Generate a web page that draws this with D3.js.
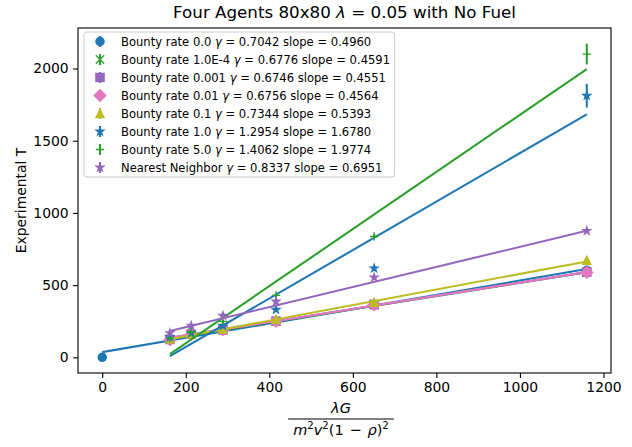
<!DOCTYPE html>
<html>
<head>
<meta charset="utf-8">
<script src="https://cdn.jsdelivr.net/npm/d3@7"></script>
<style>
  body { margin: 0; background: #fff; }
  svg { display: block; }
  text { font-family: "DejaVu Sans", sans-serif; fill: #000; }
</style>
</head>
<body>
<div id="chart"></div>
<script>
// x positions of the runs (lambda G / m^2 v^2 (1-rho)^2)
const xRuns = [162, 213, 289, 416, 651, 1160];
const xWithOrigin = [0, 162, 213, 289, 416, 651, 1160];

// series labels and fit results from the legend
const seriesNames = ["Bounty rate 0.0", "Bounty rate 1.0E-4", "Bounty rate 0.001", "Bounty rate 0.01",
  "Bounty rate 0.1", "Bounty rate 1.0", "Bounty rate 5.0", "Nearest Neighbor"];
const gammaVals = ["0.7042", "0.6776", "0.6746", "0.6756", "0.7344", "1.2954", "1.4062", "0.8337"];
const slopeVals = [0.4960, 0.4591, 0.4551, 0.4564, 0.5393, 1.6780, 1.9774, 0.6951];
const interceptVals = [36, 57, 62, 61, 38, -264, -298, 70];
const seriesColors = ["#1f77b4", "#2ca02c", "#9467bd", "#e377c2", "#bcbd22", "#1f77b4", "#2ca02c", "#9467bd"];
const seriesMarkers = ["o", "x", "s", "D", "^", "*", "+", "*"];

// measured T per run
const yBounty0 = [0, 125, 160, 191, 250, 365, 602];
const yBounty1e4 = [126, 162, 192, 252, 368, 594];
const yBounty001 = [124, 160, 190, 250, 365, 590];
const yBounty01 = [122, 158, 190, 249, 364, 588];
const yBounty1 = [128, 163, 197, 262, 382, 672];
const yBounty10 = [140, 168, 219, 330, 616, 1812];
const yBounty50 = [133, 175, 249, 429, 837, 2100];
const yNearest = [168, 219, 288, 387, 553, 876];

// error bars (half heights)
const errBounty0 = [0, 4, 4, 5, 6, 8, 10];
const errSmall = [4, 4, 5, 6, 8, 10];
const errBounty10 = [8, 8, 10, 14, 18, 82];
const errBounty50 = [6, 8, 10, 14, 16, 72];

const xTicks = [0, 200, 400, 600, 800, 1000, 1200];
const yTicks = [0, 500, 1000, 1500, 2000];

const series = [
  { x: xWithOrigin, y: yBounty0, err: errBounty0 },
  { x: xRuns, y: yBounty1e4, err: errSmall },
  { x: xRuns, y: yBounty001, err: errSmall },
  { x: xRuns, y: yBounty01, err: errSmall },
  { x: xRuns, y: yBounty1, err: errSmall },
  { x: xRuns, y: yBounty10, err: errBounty10 },
  { x: xRuns, y: yBounty50, err: errBounty50 },
  { x: xRuns, y: yNearest, err: errSmall }
].map((s, i) => ({
  ...s,
  name: seriesNames[i], gamma: gammaVals[i], slope: slopeVals[i], intercept: interceptVals[i],
  color: seriesColors[i], marker: seriesMarkers[i]
}));

const width = 632, height = 447;
const plot = { left: 78, top: 28, right: 611, bottom: 373 };

// matplotlib-like 5% margins
const allX = series.flatMap(s => s.x);
const allYlo = series.flatMap(s => s.y.map((v, j) => v - s.err[j]));
const allYhi = series.flatMap(s => s.y.map((v, j) => v + s.err[j]));
const xMin = d3.min(allX), xMax = d3.max(allX);
const yMin = Math.min(0, d3.min(allYlo)), yMax = d3.max(allYhi);
const xPad = (xMax - xMin) * 0.05, yPad = (yMax - yMin) * 0.05;

const x = d3.scaleLinear().domain([xMin - xPad, xMax + xPad]).range([plot.left, plot.right]);
const y = d3.scaleLinear().domain([yMin - yPad, yMax + yPad]).range([plot.bottom, plot.top]);

const svg = d3.select("#chart").append("svg")
  .attr("width", width)
  .attr("height", height);

// marker shapes, sized like matplotlib markersize 6
function markerPath(type, size) {
  const h = size / 2;
  if (type === "o") return d3.symbol(d3.symbolCircle, Math.PI * h * h)();
  if (type === "s") return `M${-h},${-h}H${h}V${h}H${-h}Z`;
  if (type === "D") { const d = h * Math.SQRT2; return `M0,${-d}L${d},0L0,${d}L${-d},0Z`; }
  if (type === "^") return `M0,${-h}L${h},${h}L${-h},${h}Z`;
  if (type === "+") return `M${-h},0H${h}M0,${-h}V${h}`;
  if (type === "x") return `M${-h},${-h}L${h},${h}M${-h},${h}L${h},${-h}`;
  if (type === "*") {
    const pts = d3.range(10).map(k => {
      const r = k % 2 === 0 ? h : h * 0.381966;
      const a = -Math.PI / 2 + k * Math.PI / 5;
      return [r * Math.cos(a), r * Math.sin(a)];
    });
    return "M" + pts.map(p => p.join(",")).join("L") + "Z";
  }
}
const strokeOnly = t => t === "+" || t === "x";
const msize = 8.33;

function drawMarker(g, s, cx, cy) {
  g.append("path")
    .attr("transform", `translate(${cx},${cy})`)
    .attr("d", markerPath(s.marker, msize))
    .attr("fill", strokeOnly(s.marker) ? "none" : s.color)
    .attr("stroke", s.color)
    .attr("stroke-width", strokeOnly(s.marker) ? 1.4 : 1.2)
    .attr("stroke-linejoin", "miter");
}

// axes
const xAxis = d3.axisBottom(x).tickValues(xTicks).tickFormat(d3.format("d"))
  .tickSize(4.9).tickSizeOuter(0).tickPadding(4.4);
const yAxis = d3.axisLeft(y).tickValues(yTicks).tickFormat(d3.format("d"))
  .tickSize(4.9).tickSizeOuter(0).tickPadding(4.4);

const gx = svg.append("g").attr("transform", `translate(0,${plot.bottom})`).call(xAxis);
const gy = svg.append("g").attr("transform", `translate(${plot.left},0)`).call(yAxis);
[gx, gy].forEach(g => {
  g.select(".domain").remove();
  g.selectAll("line").attr("stroke", "#000").attr("stroke-width", 1.1);
  g.selectAll("text").attr("font-size", "13.9px").attr("font-family", "DejaVu Sans").attr("fill", "#000");
});

// data
const dataLayer = svg.append("g");
series.forEach(s => {
  const g = dataLayer.append("g");
  s.x.forEach((xv, j) => {
    g.append("line")
      .attr("x1", x(xv)).attr("x2", x(xv))
      .attr("y1", y(s.y[j] - s.err[j])).attr("y2", y(s.y[j] + s.err[j]))
      .attr("stroke", s.color).attr("stroke-width", 2.08);
    drawMarker(g, s, x(xv), y(s.y[j]));
  });
  // fit line
  const fx = d3.extent(s.x);
  g.append("path")
    .datum(fx)
    .attr("d", d3.line().x(d => x(d)).y(d => y(s.slope * d + s.intercept)))
    .attr("fill", "none")
    .attr("stroke", s.color)
    .attr("stroke-width", 2.08);
});

// frame
svg.append("rect")
  .attr("x", plot.left).attr("y", plot.top)
  .attr("width", plot.right - plot.left).attr("height", plot.bottom - plot.top)
  .attr("fill", "none").attr("stroke", "#000").attr("stroke-width", 1.1);

// legend
const lf = 11.57;
const legend = svg.append("g");
const legBox = legend.append("rect")
  .attr("x", 84).attr("y", 32).attr("rx", 3).attr("ry", 3)
  .attr("fill", "#fff").attr("fill-opacity", 0.8)
  .attr("stroke", "#cccccc").attr("stroke-width", 1);
let maxRight = 0;
series.forEach((s, i) => {
  const cy = 41.5 + i * 18;
  const g = legend.append("g");
  g.append("line")
    .attr("x1", 100).attr("x2", 100).attr("y1", cy - 5.5).attr("y2", cy + 5.5)
    .attr("stroke", s.color).attr("stroke-width", 2.08);
  drawMarker(g, s, 100, cy);
  const t = g.append("text")
    .attr("x", 121).attr("y", cy).attr("dy", "0.36em")
    .attr("font-size", lf + "px");
  t.append("tspan").text(s.name + " ");
  t.append("tspan").attr("font-style", "italic").text("γ");
  t.append("tspan").text(` = ${s.gamma} slope = ${s.slope.toFixed(4)}`);
  const bb = t.node().getBBox();
  maxRight = Math.max(maxRight, bb.x + bb.width);
});
legBox.attr("width", maxRight + 4.6 - 84).attr("height", 145);

// title
const title = svg.append("text")
  .attr("x", (plot.left + plot.right) / 2).attr("y", 18)
  .attr("text-anchor", "middle").attr("font-size", "16.7px");
title.append("tspan").text("Four Agents 80x80 ");
title.append("tspan").attr("font-style", "italic").text("λ");
title.append("tspan").text(" = 0.05 with No Fuel");

// y label
svg.append("text")
  .attr("transform", `translate(26,${(plot.top + plot.bottom) / 2}) rotate(-90)`)
  .attr("text-anchor", "middle").attr("font-size", "13.9px")
  .text("Experimental T");

// x label: fraction
const fxc = 341;
const num = svg.append("text")
  .attr("x", fxc).attr("y", 413)
  .attr("text-anchor", "middle").attr("font-size", "14.5px");
num.append("tspan").attr("font-style", "italic").text("λG");

const den = svg.append("text")
  .attr("x", fxc).attr("y", 435)
  .attr("text-anchor", "middle").attr("font-size", "14.5px");
const sup = (el, txt) => el.append("tspan").attr("font-size", "10.2px").attr("dy", "-6").text(txt);
const down = (el) => el.append("tspan").attr("dy", "6");
den.append("tspan").attr("font-style", "italic").text("m");
sup(den, "2");
down(den).attr("font-style", "italic").text("v");
sup(den, "2");
down(den).text("(1\u2009\u2009−\u2009\u2009");
den.append("tspan").attr("font-style", "italic").text("ρ");
den.append("tspan").text(")");
sup(den, "2");
const denW = den.node().getBBox().width;
svg.append("line")
  .attr("x1", fxc - denW / 2 - 5).attr("x2", fxc + denW / 2 + 5)
  .attr("y1", 419).attr("y2", 419)
  .attr("stroke", "#000").attr("stroke-width", 1);
</script>
</body>
</html>
